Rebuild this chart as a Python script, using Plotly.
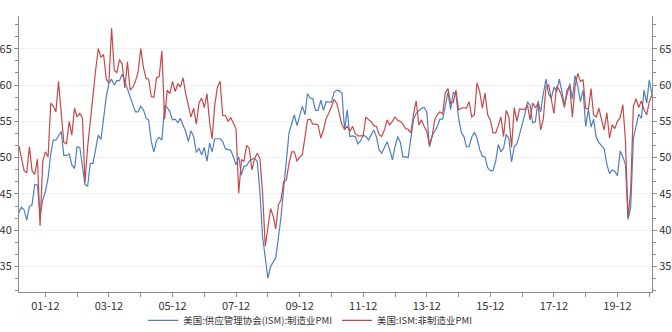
import pandas as pd
import plotly.graph_objects as go

# Monthly readings, Feb 2001 .. Jan 2021
start_month = "2001-02-01"

ism_mfg = [
    # 2001 (Feb-Dec)
    42.4, 43.2, 42.8, 41.4, 43.3, 43.5, 46.3, 46.2, 41.9, 44.2, 45.3,
    # 2002
    47.2, 50.5, 52.4, 52.4, 53.1, 53.6, 50.3, 50.3, 50.5, 49.0, 48.5, 51.5,
    # 2003
    51.4, 48.8, 46.3, 46.1, 49.2, 49.2, 51.3, 53.1, 52.5, 55.6, 58.4, 60.2,
    # 2004
    60.8, 60.0, 60.6, 60.6, 61.5, 60.5, 59.5, 58.4, 57.3, 56.3, 56.3, 57.1,
    # 2005
    56.6, 55.4, 55.2, 52.2, 50.8, 52.4, 52.8, 52.4, 57.1, 56.9, 56.3, 55.2,
    # 2006
    55.3, 54.8, 55.4, 54.6, 53.6, 52.2, 53.7, 52.9, 50.7, 51.3, 50.4, 51.4,
    # 2007
    49.5, 52.0, 50.8, 52.6, 52.6, 52.6, 52.2, 51.2, 51.1, 51.0, 50.1, 49.0,
    # 2008
    50.1, 47.6, 48.8, 48.9, 49.5, 49.8, 49.9, 49.5, 45.1, 39.1, 36.2, 33.4,
    # 2009
    35.0, 35.6, 36.2, 39.0, 41.8, 45.8, 49.5, 53.4, 54.7, 55.9, 54.4, 55.6,
    # 2010
    57.1, 55.9, 58.8, 58.2, 58.1, 56.5, 56.5, 57.9, 56.5, 57.7, 57.7, 57.6,
    # 2011
    59.0, 59.3, 59.2, 58.9, 53.8, 56.6, 52.9, 53.0, 52.9, 51.9, 52.3, 53.1,
    # 2012
    52.9, 52.4, 53.1, 53.8, 52.9, 51.1, 50.6, 51.5, 52.2, 51.1, 49.7, 51.5,
    # 2013
    52.9, 52.1, 50.1, 50.1, 50.0, 52.7, 55.2, 56.1, 56.4, 56.8, 56.9, 56.3,
    # 2014
    51.5, 53.1, 53.6, 54.3, 55.3, 55.3, 57.1, 59.0, 56.6, 59.0, 58.7, 55.5,
    # 2015
    53.5, 52.9, 51.5, 51.5, 52.8, 53.5, 52.7, 51.1, 50.2, 50.1, 48.6, 48.2,
    # 2016
    48.2, 49.5, 51.8, 50.8, 51.3, 53.2, 52.6, 49.4, 51.5, 51.9, 53.2, 54.5,
    # 2017
    56.0, 57.7, 57.2, 54.8, 54.9, 57.8, 56.3, 58.8, 60.8, 58.7, 58.2, 59.7,
    # 2018
    59.1, 60.8, 59.3, 57.3, 58.7, 60.2, 58.1, 61.3, 59.8, 57.7, 59.3, 54.3,
    # 2019
    56.6, 54.2, 55.3, 52.8, 52.1, 51.7, 51.2, 49.1, 47.8, 48.3, 48.1, 47.5,
    # 2020
    50.9, 50.1, 49.1, 41.5, 43.1, 52.6, 54.2, 56.0, 55.4, 59.3, 57.5, 60.7,
    # 2021 (Jan)
    58.7,
]

ism_nonmfg = [
    # 2001 (Feb-Dec)
    51.6, 50.0, 48.2, 47.9, 51.5, 48.2, 47.7, 49.8, 40.6, 49.5, 50.8,
    # 2002
    50.1, 57.5, 57.1, 56.3, 60.5, 56.6, 52.1, 51.9, 55.0, 53.1, 56.8, 55.6,
    # 2003
    56.1, 55.4, 46.5, 51.5, 55.5, 58.5, 62.0, 65.0, 63.8, 64.2, 60.8, 60.3,
    # 2004
    67.8, 62.0, 61.7, 63.5, 62.9, 59.6, 63.2, 59.3, 59.7, 60.5, 61.8, 65.0,
    # 2005
    62.4, 60.9, 60.8, 58.4, 58.3, 61.0, 61.2, 64.7, 55.3, 59.3, 58.8, 60.5,
    # 2006
    59.1, 60.2, 59.7, 61.0, 58.8, 57.1, 55.6, 56.8, 54.6, 57.5, 58.2, 56.9,
    # 2007
    58.8, 54.8, 52.6, 57.3, 59.7, 60.5, 55.8, 55.8, 55.0, 55.5, 54.8, 54.0,
    # 2008
    45.1, 49.7, 49.5, 51.7, 51.3, 48.3, 49.9, 50.6, 49.9, 45.1, 37.8, 40.5,
    # 2009
    43.0, 41.9, 40.2, 43.5, 44.2, 46.7, 46.9, 49.2, 50.8, 50.8, 49.5, 50.1,
    # 2010
    50.4, 52.9, 55.2, 55.3, 54.6, 54.6, 54.5, 52.7, 53.8, 55.4, 56.1, 57.0,
    # 2011
    58.0, 57.5, 56.1, 54.5, 53.9, 54.3, 53.6, 54.3, 53.3, 53.0, 53.0, 53.0,
    # 2012
    55.6, 55.2, 55.0, 54.4, 54.3, 53.2, 52.9, 53.8, 55.2, 54.5, 55.0, 55.6,
    # 2013
    55.1, 55.0, 54.6, 54.0, 53.9, 53.4, 55.9, 57.8, 54.5, 55.2, 54.3, 53.6,
    # 2014
    51.7, 52.9, 55.2, 55.9, 56.3, 56.0, 58.9, 59.5, 57.5, 57.6, 59.3, 56.6,
    # 2015
    56.8, 56.9, 56.8, 57.7, 55.6, 55.9, 60.3, 59.1, 56.8, 58.9, 55.9, 55.2,
    # 2016
    53.4, 53.4, 54.4, 55.6, 52.9, 56.5, 55.6, 51.4, 56.9, 55.0, 56.7, 56.6,
    # 2017
    56.6, 57.2, 55.2, 57.5, 56.9, 57.4, 53.8, 55.3, 59.8, 60.0, 58.2, 56.1,
    # 2018
    59.8, 59.3, 58.4, 56.9, 59.3, 59.8, 55.6, 59.8, 61.6, 60.5, 60.7, 56.8,
    # 2019
    56.7, 59.5, 55.9, 55.6, 56.8, 55.2, 53.8, 56.2, 52.7, 54.5, 54.0, 55.0,
    # 2020
    55.5, 57.3, 52.5, 41.8, 45.4, 57.1, 58.1, 56.9, 57.8, 56.6, 55.9, 57.7,
    # 2021 (Jan)
    58.7,
]

series_names = ["美国:供应管理协会(ISM):制造业PMI", "美国:ISM:非制造业PMI"]
series_colors = ["#4f7fc2", "#c44a4a"]

months = pd.date_range(start_month, periods=len(ism_mfg), freq="MS")

FONT = "Microsoft YaHei, Noto Sans CJK SC, sans-serif"
AXIS_COLOR = "#8c8c8c"
Y_RANGE = [31.5, 69.5]

fig = go.Figure()
fig.add_trace(go.Scatter(
    x=months, y=ism_mfg, name=series_names[0], mode="lines",
    line=dict(color=series_colors[0], width=1.2), yaxis="y",
))
fig.add_trace(go.Scatter(
    x=months, y=ism_nonmfg, name=series_names[1], mode="lines",
    line=dict(color=series_colors[1], width=1.2), yaxis="y2",
))

y_common = dict(
    range=Y_RANGE, tick0=35, dtick=5,
    showline=True, linecolor=AXIS_COLOR, linewidth=1,
    ticks="outside", ticklen=4, tickcolor=AXIS_COLOR,
    minor=dict(ticks="outside", ticklen=3, tickcolor=AXIS_COLOR,
               tick0=35, dtick=5 / 3, showgrid=False),
    tickfont=dict(size=11, color="#333333", family=FONT),
    zeroline=False, fixedrange=True, automargin=False,
)

fig.update_layout(
    width=672, height=332,
    margin=dict(l=19, r=20, t=16, b=40, autoexpand=False),
    paper_bgcolor="white", plot_bgcolor="white",
    font=dict(family=FONT, size=11, color="#333333"),
    xaxis=dict(
        type="date",
        range=[months[0], months[-1]],
        tick0="2001-12-01", dtick="M24", tickformat="%y-%m",
        showline=True, linecolor=AXIS_COLOR, linewidth=1,
        ticks="outside", ticklen=4, tickcolor=AXIS_COLOR,
        minor=dict(ticks="outside", ticklen=4, tickcolor=AXIS_COLOR,
                   tick0="2002-12-01", dtick="M12", showgrid=False),
        showgrid=False, zeroline=False, automargin=False,
        tickfont=dict(size=11, color="#333333", family=FONT),
    ),
    yaxis=dict(side="left", showgrid=True, gridcolor="#f1f1f1", gridwidth=1, **y_common),
    yaxis2=dict(side="right", overlaying="y", showgrid=False, **y_common),
    legend=dict(
        orientation="h", x=0.46, xanchor="center", y=-0.103, yanchor="middle",
        font=dict(size=9.5, color="#333333", family=FONT),
        bgcolor="rgba(0,0,0,0)", itemwidth=30, tracegroupgap=0,
    ),
    showlegend=True,
)

fig.write_html("out.html")
